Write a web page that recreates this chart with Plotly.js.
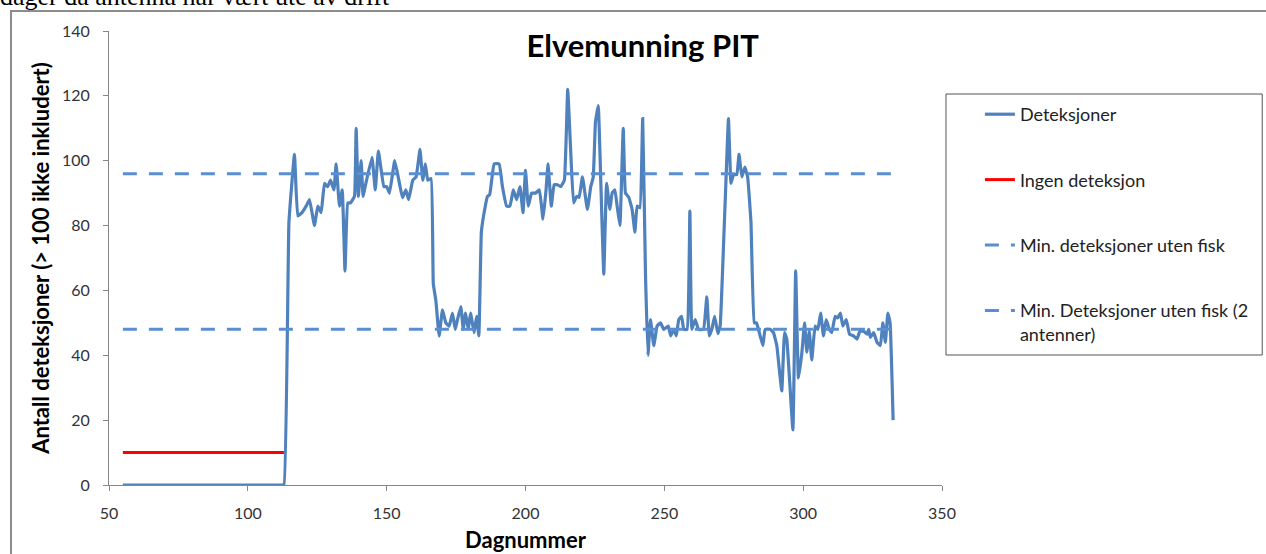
<!DOCTYPE html>
<html>
<head>
<meta charset="utf-8">
<script src="https://cdn.plot.ly/plotly-3.0.1.min.js"></script>
<style>
  html, body { margin:0; padding:0; width:1266px; height:554px; overflow:hidden; background:#fff; }
  #chart { position:absolute; left:0; top:0; width:1266px; height:554px; }
  #frame { position:absolute; left:10px; top:10px; width:1300px; height:600px; border:2px solid #8c8c8c; pointer-events:none; box-sizing:border-box; }
  #above { position:absolute; left:0; top:-16px; font-family:"Liberation Serif", "DejaVu Serif", serif; font-size:26px; color:#000; white-space:nowrap; line-height:26px; }
</style>
</head>
<body>
<div id="above">dager da antenna har vært ute av drift</div>
<div id="chart"></div>
<div id="frame"></div>
<script>
// ---- data ----
const detDays = [55,70,85,100,110,112,113,114.8,116.8,118,119.5,121,122.2,124,125.2,126.4,127.6,128.7,129.8,131,131.8,133,134,135,136,137,138.4,139,139.8,140.8,141.5,142,144.7,145.9,147,149,150,151,152.9,154.6,155.7,156.9,157.9,159.4,160.6,162,163,163.9,164.8,166,166.8,167.7,168.9,170.1,171.3,172.5,173.7,174.7,175.5,176.7,177.6,178.4,179.4,180.2,181.5,182.4,183.2,184.1,185.1,186.3,187.1,188.7,190.5,191.7,193.2,194.4,195.6,196.8,198,199.1,200,201,202.2,203.6,205,206.3,207.4,208.1,209.3,210.3,211.5,212.7,214,215.2,216.2,217.3,218.4,219.3,220.5,222.3,223.5,224.4,225.2,226.2,227.1,228.2,229.2,230.4,231.2,232.2,233,234,235.2,236,237.2,238.4,239.4,240.2,241.2,242.2,243.2,244.1,245,246.2,247.4,248.6,249.8,251.4,252.3,253.4,254.3,255.2,256.2,257,258.2,259.2,259.9,261.1,262.3,264.1,265.3,266.2,267.1,268.1,269.3,270.1,271.3,272.2,273.1,274,274.9,276.1,276.9,277.9,279,280,281.2,282.4,283.2,284.5,285.5,286.3,288.1,289.3,290.5,291.3,292.3,293.3,294.1,296.3,297.3,298.3,299.5,300.5,301.3,302.2,303.1,304.3,305.3,306.3,307.3,308.3,309.4,310.3,311.5,312.4,313.4,314.3,315.5,316.7,318.1,319.4,320.4,321.8,323,323.6,324.2,325.4,326.6,327.8,328.7,329.6,330.5,331.3,332.4];
const detValues = [0,0,0,0,0,0,0,81,102,83,84,86,88,80,86,84,93,92,94,91,99,86,91,66,87,87,89,110,89,100,89,91,101,91,103,92,92,90,100,93,88.6,91,88,94,95,103.5,94,99,94,94.5,62,57,46,54,50,49,53,48,51,55,48,53,48,53,47,52,46,78,84,89,89.5,99,99,92,86,86,91,88,92,84,97,86,90,90,91,82,91,99,86,92.6,92.6,92,94,122,104.5,87,89,88.7,95,85,92,95,112,117,94,65,93,85,90,91,86,80,110,90,88.7,85,78,86,85.5,113,65.5,40,51,43,49,50,48,49,46,48,46,51,52,48,48,84.5,48,51,48,48,58,46,48,52,46.7,49,73.6,94,113,93,95.7,95.7,102,95,98,95,81,50,50,46,43,48,48,47,43,36.6,29,47,45,17,66,33,40.5,50,41,47.4,38.6,49,48,53,46,51,48,47,52,51.5,53,49,51,46.5,46,45,47.4,47.4,46.5,48,45.5,47,44,43,50,44,53,50,20];
const noDetDays = [55,113];
const noDetValues = [10,10];
const minDays = [55,333];
const minValues = [96,96];
const min2Days = [55,333];
const min2Values = [48,48];
const seriesNames = ["Deteksjoner","Ingen deteksjon","Min. deteksjoner uten fisk","Min. Deteksjoner uten fisk (2<br>antenner)"];
const titleText = "Elvemunning PIT";
const xTitle = "Dagnummer";
const yTitle = "Antall deteksjoner (> 100 ikke inkludert)";

const FONT = "Lato, 'Open Sans', sans-serif";
const dashBlue = "#5A8ED3";

const traces = [
  {x: detDays, y: detValues, name: seriesNames[0], legendgroup:"a", mode:"lines",
   line:{color:"#4F81BD", width:3.2, shape:"spline", smoothing:0.3}},
  {x: noDetDays, y: noDetValues, name: seriesNames[1], legendgroup:"b", mode:"lines",
   line:{color:"#FF0000", width:3}},
  {x: minDays, y: minValues, name: seriesNames[2], legendgroup:"c", mode:"lines",
   line:{color:dashBlue, width:3, dash:"14px,12px"}},
  {x: min2Days, y: min2Values, name: seriesNames[3], legendgroup:"d", mode:"lines",
   line:{color:dashBlue, width:3, dash:"14px,12px"}}
];

const plotL = 109, plotR = 944, plotT = 31, plotB = 485;
const pw = plotR - plotL, ph = plotB - plotT;
const px2x = p => (p - plotL) / pw;
const px2y = p => (plotB - p) / ph;

const layout = {
  width:1266, height:554,
  margin:{l:plotL, r:1266-plotR, t:plotT, b:554-plotB},
  paper_bgcolor:"rgba(0,0,0,0)", plot_bgcolor:"rgba(0,0,0,0)",
  font:{family:FONT, size:16, color:"#333"},
  showlegend:true,
  title:{text:"<b>"+titleText+"</b>", font:{family:FONT, size:31, color:"#000"},
         xref:"paper", x:px2x(644), xanchor:"center", yref:"paper", y:px2y(46), yanchor:"middle"},
  xaxis:{range:[50,350], dtick:50, tick0:50, showgrid:false, zeroline:false,
         showline:true, linecolor:"#868686", linewidth:1, ticks:"outside", ticklen:5, tickcolor:"#868686",
         ticklabelstandoff:9, tickfont:{size:16, color:"#333"},
         title:{text:"<b>"+xTitle+"</b>", font:{size:22, color:"#000"}, standoff:11}},
  yaxis:{range:[0,140], dtick:20, showgrid:false, zeroline:false,
         showline:true, linecolor:"#868686", linewidth:1, ticks:"outside", ticklen:5, tickcolor:"#868686",
         ticklabelstandoff:10, tickfont:{size:16, color:"#333"},
         title:{text:"<b>"+yTitle+"</b>", font:{size:22, color:"#000"}, standoff:6}},
  legend:{x:px2x(982), xanchor:"left", y:px2y(96), yanchor:"top", bgcolor:"rgba(0,0,0,0)",
          borderwidth:0, font:{family:FONT, size:18, color:"#222"}, tracegroupgap:39, valign:"top",
          traceorder:"grouped"},
  shapes:[{type:"rect", xref:"paper", yref:"paper", x0:px2x(948), x1:px2x(1265), y0:px2y(355), y1:px2y(94),
           line:{color:"#555", width:1}, fillcolor:"rgba(0,0,0,0)", layer:"below"}]
};

Plotly.newPlot("chart", traces, layout, {staticPlot:true, displayModeBar:false});
</script>
</body>
</html>
